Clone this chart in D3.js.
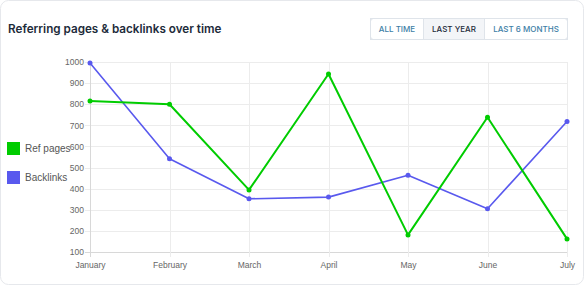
<!DOCTYPE html>
<html>
<head>
<script src="https://cdn.jsdelivr.net/npm/d3@7"></script>
<style>
  body { margin: 0; background: #fff; }
  svg { display: block; }
</style>
</head>
<body>
<script>
  var w = 585, h = 286;
  var months = ["January", "February", "March", "April", "May", "June", "July"];
  var refPages = [815, 800, 394, 943, 181, 738, 162];
  var backlinks = [995, 542, 352, 360, 464, 305, 718];
  var yTicks = [100, 200, 300, 400, 500, 600, 700, 800, 900, 1000];
  var buttons = ["ALL TIME", "LAST YEAR", "LAST 6 MONTHS"];

  var padding = { left: 90, right: 18, top: 62, bottom: 34 };

  var svg = d3.select("body").append("svg").attr("width", w).attr("height", h);

  // card
  svg.append("rect")
    .attr("x", 0.5).attr("y", 0.5).attr("width", w - 2).attr("height", h - 2)
    .attr("rx", 8).attr("fill", "#fff").attr("stroke", "#e6e8ec");

  svg.append("text")
    .attr("x", 8).attr("y", 33)
    .attr("font-family", "Inter, 'Noto Sans', sans-serif")
    .attr("font-size", 11.7).attr("font-weight", 600)
    .attr("fill", "#1d2b3a")
    .text("Referring pages & backlinks over time");

  // button group
  var btnX = [370, 423, 484, 567];
  var btn = svg.append("g");
  buttons.forEach(function (b, i) {
    btn.append("rect")
      .attr("x", btnX[i] + 0.5).attr("y", 18.5)
      .attr("width", btnX[i + 1] - btnX[i]).attr("height", 21)
      .attr("fill", i === 1 ? "#f3f5f8" : "#fff")
      .attr("stroke", "#dfe4ea");
    btn.append("text")
      .attr("x", (btnX[i] + btnX[i + 1]) / 2 + 0.5).attr("y", 32)
      .attr("text-anchor", "middle")
      .attr("font-family", "Inter, 'Noto Sans', sans-serif")
      .attr("font-size", 8).attr("font-weight", 500)
      .attr("fill", i === 1 ? "#1d2b3a" : "#3d7ea6")
      .text(b);
  });
  btn.append("rect")
    .attr("x", 370.5).attr("y", 18.5).attr("width", 197).attr("height", 21)
    .attr("rx", 3).attr("fill", "none").attr("stroke", "#dfe4ea");

  var xScale = d3.scalePoint().domain(months).range([padding.left, w - padding.right]);
  var yScale = d3.scaleLinear().domain([100, 1000]).range([h - padding.bottom, padding.top]);

  var font = "Arial, 'Liberation Sans', sans-serif";

  // grid
  svg.append("g").selectAll("line.h").data(yTicks).enter().append("line")
    .attr("x1", padding.left - 5).attr("x2", w - padding.right)
    .attr("y1", function (d) { return Math.round(yScale(d)) + 0.5; })
    .attr("y2", function (d) { return Math.round(yScale(d)) + 0.5; })
    .attr("stroke", function (d) { return d === 100 ? "#d8d8d8" : "#ececec"; });
  svg.append("g").selectAll("line.v").data(months).enter().append("line")
    .attr("x1", function (d) { return Math.round(xScale(d)) + 0.5; })
    .attr("x2", function (d) { return Math.round(xScale(d)) + 0.5; })
    .attr("y1", padding.top).attr("y2", h - padding.bottom + 5)
    .attr("stroke", function (d, i) { return i === 0 ? "#d8d8d8" : "#ececec"; });

  var yAxis = d3.axisLeft(yScale).tickValues(yTicks).tickFormat(d3.format("d")).tickSize(0).tickPadding(6);
  svg.append("g")
    .attr("transform", "translate(" + padding.left + ",0)")
    .call(yAxis)
    .call(function (g) {
      g.select(".domain").remove();
      g.selectAll("text").attr("font-family", font).attr("font-size", 8.5).attr("fill", "#666");
    });

  var xAxis = d3.axisBottom(xScale).tickSize(0).tickPadding(10);
  svg.append("g")
    .attr("transform", "translate(0," + (h - padding.bottom) + ")")
    .call(xAxis)
    .call(function (g) {
      g.select(".domain").remove();
      g.selectAll("text").attr("font-family", font).attr("font-size", 8.5).attr("fill", "#666");
    });

  var series = [
    { name: "Ref pages", values: refPages, color: "#00cc00", width: 2 },
    { name: "Backlinks", values: backlinks, color: "#5959ee", width: 1.6 }
  ];

  var line = d3.line()
    .x(function (d, i) { return xScale(months[i]); })
    .y(function (d) { return yScale(d); });

  series.slice().reverse().forEach(function (s) {
    svg.append("path")
      .datum(s.values)
      .attr("fill", "none")
      .attr("stroke", s.color)
      .attr("stroke-width", s.width)
      .attr("stroke-linejoin", "round")
      .attr("d", line);
    svg.append("g").selectAll("circle").data(s.values).enter().append("circle")
      .attr("cx", function (d, i) { return xScale(months[i]); })
      .attr("cy", function (d) { return yScale(d); })
      .attr("r", 2.5)
      .attr("fill", s.color);
  });

  // legend
  series.forEach(function (s, i) {
    var y = 142 + i * 29;
    svg.append("rect").attr("x", 7).attr("y", y).attr("width", 13).attr("height", 13).attr("fill", s.color);
    svg.append("text")
      .attr("x", 25).attr("y", y + 10)
      .attr("font-family", font).attr("font-size", 10).attr("fill", "#555")
      .text(s.name);
  });
</script>
</body>
</html>
